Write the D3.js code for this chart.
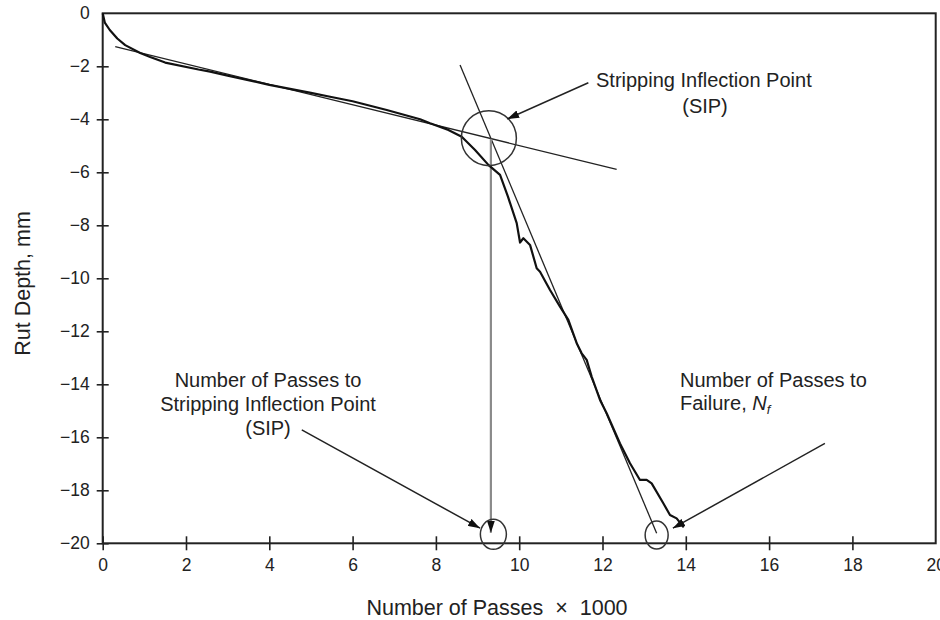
<!DOCTYPE html>
<html><head><meta charset="utf-8">
<script src="https://cdn.jsdelivr.net/npm/d3@7"></script>
<style>
body{margin:0;background:#fff;}
text{font-family:"Liberation Sans",Arial,sans-serif;fill:#222;}
</style></head>
<body><svg id="c" width="940" height="620"></svg>
<script>
// ---- data ----
const xTicks = [0,2,4,6,8,10,12,14,16,18,20];
const yTicks = [0,-2,-4,-6,-8,-10,-12,-14,-16,-18,-20];
const passes = [0,0.05,0.17,0.35,0.54,0.9,1.14,1.5,2.3,2.58,3,4,5,5.46,6,6.82,7.62,7.86,8.3,8.62,8.94,9.26,9.54,9.73,9.94,10.02,10.1,10.26,10.42,10.5,10.74,10.98,11.18,11.38,11.5,11.62,11.74,11.94,12.1,12.42,12.66,12.9,13.06,13.18,13.46,13.62,13.78,13.95];
const rutDepth = [0,-0.35,-0.63,-0.95,-1.2,-1.5,-1.65,-1.86,-2.12,-2.2,-2.35,-2.7,-3.0,-3.15,-3.32,-3.65,-4.0,-4.15,-4.4,-4.66,-5.16,-5.72,-6.1,-6.92,-7.92,-8.65,-8.49,-8.74,-9.62,-9.75,-10.44,-11.07,-11.57,-12.45,-12.83,-13.08,-13.71,-14.59,-15.09,-16.23,-16.98,-17.61,-17.61,-17.74,-18.49,-18.93,-19.06,-19.4];
const shallowLineX = [0.3,12.34];
const shallowLineY = [-1.26,-5.89];
const steepLineX = [8.58,13.3];
const steepLineY = [-1.95,-19.62];
const sipX = 9.32, sipY = -4.73;
const sipBottomY = -19.6;
const sipCircleX = 9.38, sipCircleY = -19.66;
const nfCircleX = 13.3, nfCircleY = -19.69;
const xDomain = [0,20], yDomain = [-20,0];

// ---- layout ----
const svg = d3.select("#c");
const L = 102.7, T = 13.3, W = 833, H = 530;
const x = d3.scaleLinear().domain(xDomain).range([L, L+W]);
const y = d3.scaleLinear().domain(yDomain).range([T+H, T]);

const defs = svg.append("defs");
defs.append("marker").attr("id","ah").attr("viewBox","0 0 12 8").attr("refX",12).attr("refY",4)
  .attr("markerWidth",12).attr("markerHeight",8).attr("markerUnits","userSpaceOnUse").attr("orient","auto")
  .append("path").attr("d","M0,0 L12,4 L0,8 Z").attr("fill","#111");

// axes
const fmt = d => d < 0 ? "\u2212" + Math.abs(d) : String(d);
const gx = svg.append("g").attr("transform",`translate(0,${T+H})`)
  .call(d3.axisBottom(x).tickValues(xTicks).tickFormat(fmt).tickSize(7).tickPadding(8));
const gxi = svg.append("g").attr("transform",`translate(0,${T+H})`)
  .call(d3.axisBottom(x).tickValues(xTicks).tickFormat("").tickSize(-7));
const gy = svg.append("g").attr("transform",`translate(${L},0)`)
  .call(d3.axisLeft(y).tickValues(yTicks).tickFormat(fmt).tickSize(6).tickPadding(7));
const gyi = svg.append("g").attr("transform",`translate(${L},0)`)
  .call(d3.axisLeft(y).tickValues(yTicks).tickFormat("").tickSize(-6));
[gx,gxi,gy,gyi].forEach(g=>{
  g.select(".domain").remove();
  g.selectAll(".tick line").attr("stroke","#222").attr("stroke-width",1.6);
  g.selectAll("text").style("font-size","17.5px").attr("fill","#222").style("font-family","'Liberation Sans',Arial,sans-serif");
});
gx.selectAll(".tick").filter(d=>d===20).select("line").remove();
gxi.selectAll(".tick").filter(d=>d===20).select("line").remove();
gy.selectAll(".tick").filter(d=>d===0).select("line").remove();
gyi.selectAll(".tick").filter(d=>d===0).select("line").remove();

svg.append("rect").attr("x",L).attr("y",T).attr("width",W).attr("height",H)
  .attr("fill","none").attr("stroke","#222").attr("stroke-width",2);

// axis titles
svg.append("text").attr("transform",`translate(30,283.5) rotate(-90)`)
  .attr("text-anchor","middle").style("font-size","21.5px").text("Rut Depth, mm");
svg.append("text").attr("x",497).attr("y",615).attr("text-anchor","middle").style("font-size","21.5px")
  .attr("xml:space","preserve").text("Number of Passes  \u00d7  1000");

// tangent lines
const ln = d3.line().x(d=>x(d[0])).y(d=>y(d[1]));
svg.append("path").attr("d",ln(shallowLineX.map((v,i)=>[v,shallowLineY[i]])))
  .attr("fill","none").attr("stroke","#222").attr("stroke-width",1.3);
svg.append("path").attr("d",ln(steepLineX.map((v,i)=>[v,steepLineY[i]])))
  .attr("fill","none").attr("stroke","#222").attr("stroke-width",1.3);

// vertical SIP drop line
svg.append("line").attr("x1",x(sipX)).attr("y1",y(sipY)).attr("x2",x(sipX)).attr("y2",y(sipBottomY))
  .attr("stroke","#8a8a8a").attr("stroke-width",2.2);
svg.append("line").attr("x1",x(sipX)).attr("y1",y(sipBottomY)-14).attr("x2",x(sipX)).attr("y2",y(sipBottomY))
  .attr("stroke","none").attr("marker-end","url(#ah)");

// main curve
svg.append("path").attr("d",ln(passes.map((v,i)=>[v,rutDepth[i]])))
  .attr("fill","none").attr("stroke","#111").attr("stroke-width",2.2).attr("stroke-linejoin","round");

// circles
svg.append("circle").attr("cx",x(sipX)-2).attr("cy",y(sipY)-0.5).attr("r",27.5)
  .attr("fill","none").attr("stroke","#333").attr("stroke-width",1.5);
svg.append("ellipse").attr("cx",x(sipCircleX)).attr("cy",y(sipCircleY)).attr("rx",13).attr("ry",15)
  .attr("fill","none").attr("stroke","#333").attr("stroke-width",1.5);
svg.append("ellipse").attr("cx",x(nfCircleX)).attr("cy",y(nfCircleY)).attr("rx",11.5).attr("ry",14)
  .attr("fill","none").attr("stroke","#333").attr("stroke-width",1.5);

// annotation arrows
const arrows = [
  [[11.66,-2.62],[9.71,-3.99]],
  [[4.78,-15.72],[9.06,-19.43]],
  [[17.34,-16.23],[13.69,-19.43]]
];
arrows.forEach(a=>{
  svg.append("line").attr("x1",x(a[0][0])).attr("y1",y(a[0][1])).attr("x2",x(a[1][0])).attr("y2",y(a[1][1]))
    .attr("stroke","#222").attr("stroke-width",1.5).attr("marker-end","url(#ah)");
});

// annotation text
const fs = "20px";
svg.append("text").attr("x",596).attr("y",87).style("font-size",fs).text("Stripping Inflection Point");
svg.append("text").attr("x",705).attr("y",113).attr("text-anchor","middle").style("font-size",fs).text("(SIP)");
[["Number of Passes to",387],["Stripping Inflection Point",411],["(SIP)",435]].forEach(t=>{
  svg.append("text").attr("x",268).attr("y",t[1]).attr("text-anchor","middle").style("font-size",fs).text(t[0]);
});
svg.append("text").attr("x",680).attr("y",387).style("font-size",fs).text("Number of Passes to");
const tf = svg.append("text").attr("x",680).attr("y",410).style("font-size",fs);
tf.append("tspan").text("Failure, ");
tf.append("tspan").style("font-style","italic").text("N");
tf.append("tspan").attr("dy",4).style("font-style","italic").style("font-size","13px").text("f");
</script></body></html>
